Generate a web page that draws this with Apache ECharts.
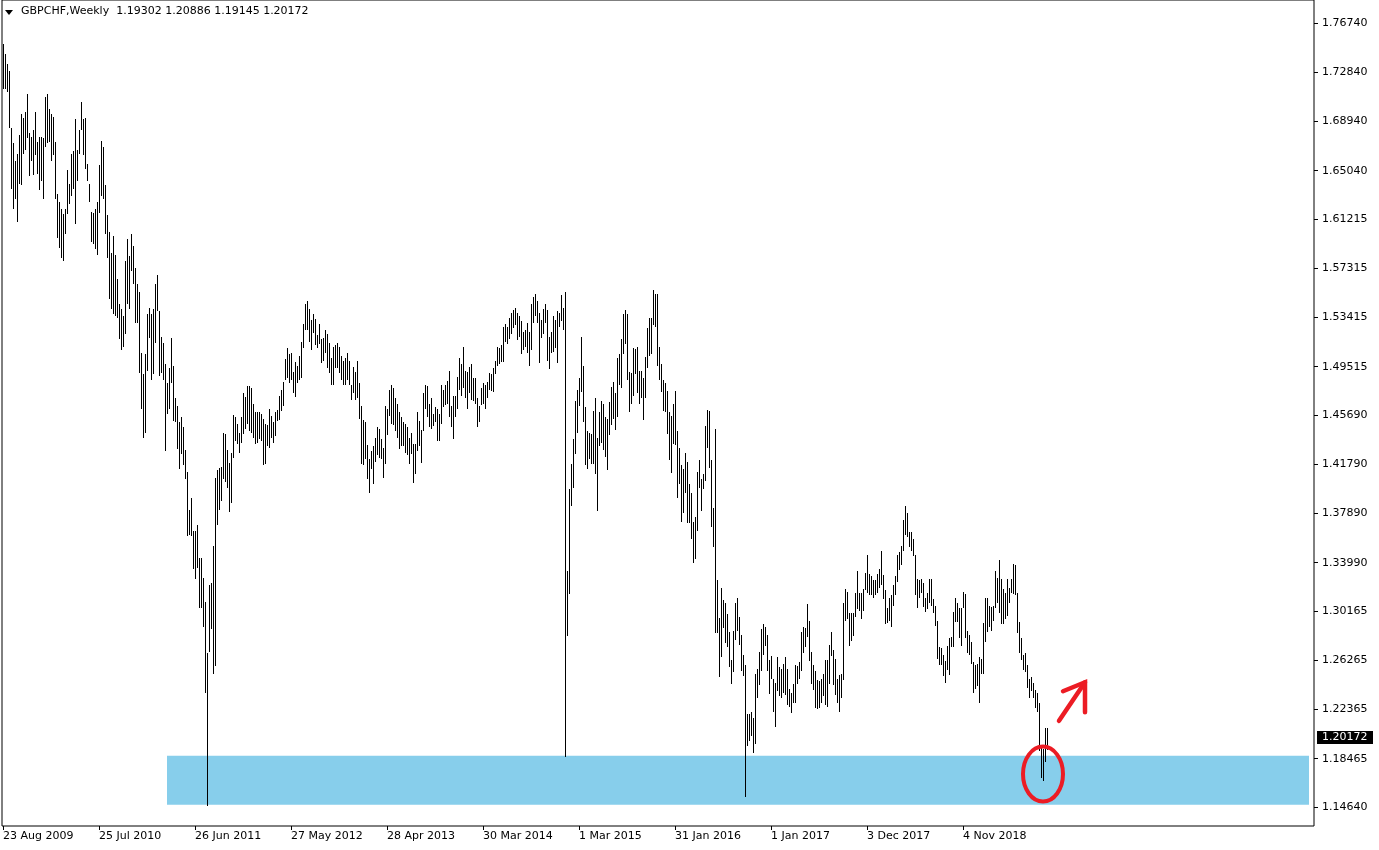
<!DOCTYPE html>
<html><head><meta charset="utf-8">
<script src="https://cdn.jsdelivr.net/npm/echarts@6/dist/echarts.min.js"></script>
<style>html,body{margin:0;padding:0;background:#fff}#c{width:1379px;height:850px}</style>
</head><body><div id="c"></div><script>
const symbolTitle = 'GBPCHF,Weekly';
const lastBar = {open: 1.19302, high: 1.20886, low: 1.19145, close: 1.20172};
const firstWeek = [2009, 7, 23];
const categoryCount = 656;
const labelEvery = 48;
const monthNames = ['Jan','Feb','Mar','Apr','May','Jun','Jul','Aug','Sep','Oct','Nov','Dec'];
const priceTicks = [1.76740,1.72840,1.68940,1.65040,1.61215,1.57315,1.53415,1.49515,1.45690,1.41790,1.37890,1.33990,1.30165,1.26265,1.22365,1.18465,1.14640];
const priceRange = {min: 1.13135, max: 1.78562};
const zone = {fromIndex: 82, toIndex: 653, top: 1.1869, bottom: 1.1482};

const highs = [
1.751,1.743,1.735,1.729,1.684,1.672,1.658,1.664,1.679,1.695,
1.692,1.697,1.711,1.680,1.677,1.683,1.697,1.673,1.677,1.677,
1.676,1.709,1.711,1.699,1.695,1.693,1.673,1.632,1.626,1.620,
1.616,1.620,1.651,1.640,1.664,1.666,1.691,1.667,1.683,1.705,
1.691,1.692,1.656,1.640,1.618,1.617,1.620,1.626,1.655,1.674,
1.669,1.639,1.615,1.602,1.585,1.599,1.584,1.565,1.545,1.541,
1.535,1.579,1.596,1.583,1.600,1.591,1.573,1.561,1.554,1.506,
1.489,1.505,1.537,1.542,1.537,1.541,1.561,1.568,1.539,1.519,
1.514,1.497,1.482,1.494,1.518,1.496,1.470,1.464,1.451,1.455,
1.447,1.429,1.412,1.382,1.391,1.365,1.365,1.370,1.344,1.344,
1.328,1.309,1.268,1.322,1.324,1.353,1.407,1.413,1.415,1.416,
1.443,1.442,1.429,1.419,1.427,1.457,1.455,1.450,1.443,1.455,
1.474,1.471,1.480,1.480,1.478,1.466,1.459,1.459,1.459,1.458,
1.454,1.450,1.449,1.462,1.456,1.451,1.459,1.461,1.472,1.477,
1.483,1.501,1.510,1.505,1.506,1.491,1.499,1.496,1.504,1.515,
1.529,1.545,1.547,1.541,1.532,1.537,1.533,1.520,1.529,1.517,
1.518,1.524,1.521,1.514,1.502,1.511,1.512,1.514,1.511,1.504,
1.500,1.502,1.506,1.500,1.481,1.495,1.491,1.500,1.482,1.464,
1.453,1.451,1.433,1.422,1.428,1.432,1.439,1.447,1.446,1.438,
1.431,1.464,1.462,1.477,1.481,1.478,1.470,1.466,1.459,1.455,
1.451,1.450,1.447,1.439,1.443,1.434,1.434,1.459,1.452,1.445,
1.474,1.481,1.480,1.466,1.470,1.458,1.463,1.462,1.458,1.481,
1.477,1.481,1.484,1.492,1.464,1.472,1.472,1.487,1.502,1.497,
1.511,1.492,1.491,1.495,1.497,1.486,1.486,1.470,1.464,1.478,
1.482,1.481,1.483,1.490,1.489,1.494,1.500,1.511,1.510,1.512,
1.527,1.529,1.527,1.534,1.538,1.540,1.542,1.538,1.535,1.531,
1.523,1.524,1.530,1.523,1.545,1.550,1.553,1.547,1.538,1.532,
1.541,1.545,1.540,1.519,1.523,1.535,1.532,1.539,1.538,1.552,
1.542,1.554,1.333,1.398,1.418,1.438,1.468,1.477,1.486,1.519,
1.496,1.463,1.444,1.443,1.442,1.460,1.470,1.439,1.459,1.468,
1.466,1.455,1.454,1.467,1.479,1.483,1.474,1.502,1.505,1.517,
1.537,1.540,1.537,1.491,1.490,1.510,1.509,1.511,1.492,1.492,
1.486,1.503,1.526,1.534,1.534,1.556,1.553,1.553,1.511,1.497,
1.485,1.482,1.476,1.459,1.456,1.466,1.476,1.444,1.431,1.417,
1.414,1.427,1.420,1.402,1.395,1.372,1.376,1.412,1.421,1.406,
1.410,1.448,1.461,1.460,1.421,1.383,1.446,1.326,1.296,1.320,
1.310,1.308,1.299,1.285,1.263,1.286,1.308,1.312,1.297,1.283,
1.267,1.259,1.220,1.220,1.222,1.217,1.252,1.256,1.269,1.287,
1.291,1.289,1.283,1.263,1.266,1.248,1.245,1.265,1.257,1.256,
1.260,1.265,1.256,1.240,1.237,1.244,1.259,1.258,1.261,1.285,
1.289,1.288,1.307,1.294,1.269,1.259,1.254,1.247,1.246,1.248,
1.252,1.263,1.263,1.275,1.285,1.271,1.264,1.248,1.251,1.252,
1.308,1.319,1.317,1.300,1.300,1.300,1.316,1.333,1.316,1.316,
1.319,1.332,1.346,1.331,1.329,1.326,1.326,1.331,1.335,1.349,
1.330,1.318,1.304,1.312,1.314,1.322,1.329,1.346,1.348,1.353,
1.374,1.385,1.379,1.364,1.364,1.359,1.346,1.327,1.326,1.327,
1.324,1.312,1.316,1.327,1.327,1.311,1.306,1.294,1.273,1.272,
1.267,1.262,1.274,1.280,1.281,1.301,1.312,1.308,1.304,1.304,
1.317,1.315,1.286,1.283,1.277,1.261,1.259,1.260,1.265,1.264,
1.292,1.312,1.312,1.306,1.305,1.306,1.333,1.328,1.342,1.327,
1.319,1.316,1.327,1.320,1.327,1.339,1.338,1.316,1.293,1.280,
1.267,1.268,1.259,1.248,1.249,1.245,1.239,1.237,1.229,1.195,
1.192,1.209,1.20886
];
const lows = [
1.715,1.715,1.713,1.684,1.636,1.620,1.628,1.610,1.640,1.639,
1.664,1.667,1.676,1.646,1.658,1.647,1.663,1.648,1.635,1.642,
1.628,1.669,1.672,1.673,1.658,1.663,1.628,1.597,1.589,1.581,
1.579,1.600,1.616,1.624,1.630,1.636,1.608,1.642,1.664,1.683,
1.663,1.652,1.642,1.626,1.594,1.592,1.588,1.584,1.617,1.630,
1.628,1.600,1.581,1.549,1.541,1.537,1.535,1.534,1.517,1.508,
1.511,1.521,1.545,1.541,1.571,1.561,1.530,1.530,1.490,1.462,
1.439,1.443,1.492,1.518,1.485,1.489,1.514,1.539,1.488,1.490,
1.485,1.428,1.458,1.462,1.482,1.452,1.451,1.430,1.414,1.426,
1.417,1.406,1.361,1.362,1.361,1.335,1.327,1.336,1.304,1.304,
1.289,1.237,1.147,1.269,1.287,1.252,1.258,1.370,1.382,1.389,
1.406,1.404,1.399,1.380,1.387,1.423,1.436,1.434,1.427,1.435,
1.442,1.446,1.450,1.444,1.443,1.439,1.434,1.435,1.438,1.436,
1.417,1.418,1.432,1.431,1.439,1.435,1.440,1.452,1.453,1.460,
1.464,1.485,1.486,1.482,1.485,1.474,1.471,1.482,1.485,1.486,
1.510,1.524,1.524,1.515,1.508,1.522,1.512,1.510,1.513,1.498,
1.500,1.506,1.494,1.490,1.481,1.481,1.494,1.494,1.490,1.485,
1.481,1.481,1.485,1.481,1.469,1.474,1.469,1.470,1.454,1.418,
1.417,1.422,1.406,1.395,1.414,1.402,1.420,1.425,1.423,1.422,
1.407,1.418,1.441,1.456,1.450,1.449,1.444,1.439,1.430,1.432,
1.432,1.427,1.425,1.418,1.426,1.403,1.410,1.428,1.432,1.419,
1.444,1.462,1.455,1.447,1.446,1.448,1.451,1.436,1.436,1.450,
1.463,1.465,1.466,1.455,1.447,1.438,1.455,1.462,1.477,1.472,
1.478,1.470,1.462,1.474,1.469,1.468,1.466,1.447,1.451,1.465,
1.466,1.462,1.470,1.477,1.476,1.475,1.489,1.496,1.497,1.499,
1.499,1.515,1.513,1.517,1.521,1.526,1.528,1.516,1.519,1.505,
1.508,1.511,1.506,1.496,1.508,1.530,1.535,1.530,1.498,1.518,
1.521,1.530,1.500,1.493,1.506,1.507,1.510,1.498,1.527,1.531,
1.524,1.186,1.282,1.315,1.385,1.399,1.426,1.443,1.464,1.475,
1.451,1.417,1.414,1.422,1.418,1.418,1.410,1.381,1.432,1.435,
1.429,1.424,1.413,1.441,1.449,1.454,1.445,1.455,1.481,1.478,
1.505,1.513,1.485,1.459,1.466,1.472,1.489,1.474,1.466,1.470,
1.453,1.470,1.494,1.504,1.505,1.528,1.527,1.496,1.485,1.475,
1.460,1.459,1.442,1.421,1.411,1.434,1.433,1.391,1.402,1.372,
1.379,1.395,1.371,1.371,1.359,1.340,1.343,1.365,1.399,1.381,
1.398,1.405,1.431,1.415,1.368,1.352,1.284,1.284,1.249,1.265,
1.288,1.276,1.273,1.257,1.244,1.253,1.279,1.286,1.275,1.254,
1.250,1.154,1.195,1.199,1.203,1.189,1.196,1.233,1.243,1.254,
1.267,1.274,1.254,1.236,1.248,1.222,1.210,1.238,1.234,1.233,
1.237,1.235,1.227,1.226,1.221,1.229,1.229,1.244,1.248,1.254,
1.268,1.273,1.281,1.262,1.244,1.239,1.225,1.224,1.225,1.229,
1.234,1.227,1.226,1.244,1.266,1.243,1.235,1.229,1.222,1.233,
1.247,1.294,1.295,1.274,1.278,1.282,1.297,1.303,1.302,1.295,
1.302,1.318,1.316,1.314,1.314,1.312,1.314,1.316,1.320,1.322,
1.311,1.291,1.292,1.294,1.289,1.306,1.314,1.325,1.334,1.338,
1.349,1.362,1.360,1.352,1.349,1.345,1.314,1.304,1.312,1.316,
1.305,1.301,1.303,1.308,1.306,1.300,1.290,1.264,1.259,1.259,
1.250,1.245,1.255,1.251,1.273,1.273,1.293,1.293,1.280,1.274,
1.304,1.280,1.268,1.267,1.260,1.237,1.240,1.242,1.229,1.252,
1.252,1.277,1.285,1.289,1.286,1.294,1.304,1.308,1.300,1.291,
1.291,1.295,1.298,1.308,1.316,1.315,1.314,1.284,1.268,1.263,
1.255,1.253,1.241,1.233,1.238,1.233,1.225,1.222,1.191,1.169,
1.167,1.182,1.19145
];

// weekly category labels
const weeks = [];
for (let k = 0; k < categoryCount; k++) {
  const d = new Date(Date.UTC(firstWeek[0], firstWeek[1], firstWeek[2] + 7 * k));
  weeks.push(d.getUTCDate() + ' ' + monthNames[d.getUTCMonth()] + ' ' + d.getUTCFullYear());
}
const nBars = highs.length;
const barData = highs.map((h, i) => [i, h, lows[i]]);
const FONT = 'DejaVu Sans';

const chart = echarts.init(document.getElementById('c'), null, {renderer: 'canvas'});
const showIdx = (idx) => idx % labelEvery === 0 && idx < nBars;

chart.setOption({
  animation: false,
  backgroundColor: '#ffffff',
  grid: {left: 2, right: 65, top: 0, bottom: 24, show: true, borderColor: '#000', borderWidth: 1, backgroundColor: 'transparent'},
  xAxis: {
    type: 'category', data: weeks, boundaryGap: true,
    axisLine: {show: false},
    axisTick: {show: true, alignWithLabel: true, interval: showIdx, length: 4, lineStyle: {color: '#000'}},
    axisLabel: {interval: showIdx, align: 'left', margin: 5, color: '#000', fontSize: 11, fontFamily: FONT},
    splitLine: {show: false}
  },
  yAxis: {
    type: 'value', position: 'right', min: priceRange.min, max: priceRange.max, scale: true,
    axisLine: {show: false},
    axisTick: {show: true, customValues: priceTicks, length: 4, inside: false, lineStyle: {color: '#000'}},
    axisLabel: {customValues: priceTicks, formatter: (v) => Number(v).toFixed(5), margin: 8, color: '#000', fontSize: 11, fontFamily: FONT},
    splitLine: {show: false}
  },
  series: [
    {
      type: 'line', data: [], z: 1, silent: true,
      markArea: {silent: true, itemStyle: {color: '#87CEEB', opacity: 1},
        data: [[{xAxis: zone.fromIndex, yAxis: zone.top}, {xAxis: zone.toIndex, yAxis: zone.bottom}]]}
    },
    {
      type: 'custom', z: 5, data: barData, encode: {x: 0, y: [1, 2]},
      renderItem: function (params, api) {
        const i = api.value(0);
        const top = api.coord([i, api.value(1)]);
        const bot = api.coord([i, api.value(2)]);
        const x = Math.round(top[0]);
        const y0 = Math.round(top[1]);
        const y1 = Math.max(Math.round(bot[1]), y0 + 1);
        return {type: 'rect', shape: {x: x, y: y0, width: 1, height: y1 - y0}, style: {fill: '#000'}};
      }
    }
  ]
});

// annotations and header
const px = (idx, price) => chart.convertToPixel({xAxisIndex: 0, yAxisIndex: 0}, [idx, price]);
const tag = px(nBars - 1, lastBar.close);
const circ = px(519.5, 1.1725);
const arrowStart = px(527.6, 1.2147);
const arrowTip = px(541, 1.2452);
const headA = px(530.2, 1.2381);
const headB = px(540.5, 1.2215);
const red = '#ec1c24';
chart.setOption({
  graphic: [
    {type: 'polygon', shape: {points: [[5, 10], [13, 10], [9, 15]]}, style: {fill: '#000'}},
    {type: 'text', left: 21, top: 6, style: {text: symbolTitle + '  ' + lastBar.open.toFixed(5) + ' ' + lastBar.high.toFixed(5) + ' ' + lastBar.low.toFixed(5) + ' ' + lastBar.close.toFixed(5), font: '11px "' + FONT + '"', fill: '#000'}},
    {type: 'rect', shape: {x: 1317, y: Math.round(tag[1]) - 6, width: 56, height: 13}, style: {fill: '#000'}, z: 10},
    {type: 'text', x: 1322, y: Math.round(tag[1]) + 0.5, style: {text: lastBar.close.toFixed(5), font: '11px "' + FONT + '"', fill: '#fff', textVerticalAlign: 'middle'}, z: 11},
    {type: 'ellipse', shape: {cx: circ[0], cy: circ[1], rx: 20, ry: 27.5}, style: {fill: 'none', stroke: red, lineWidth: 4}, z: 20},
    {type: 'polyline', shape: {points: [arrowStart, arrowTip]}, style: {stroke: red, lineWidth: 4.5, lineCap: 'round', fill: 'none'}, z: 20},
    {type: 'polyline', shape: {points: [headA, arrowTip, headB]}, style: {stroke: red, lineWidth: 4.5, lineCap: 'round', lineJoin: 'miter', fill: 'none'}, z: 20}
  ]
});
</script></body></html>
